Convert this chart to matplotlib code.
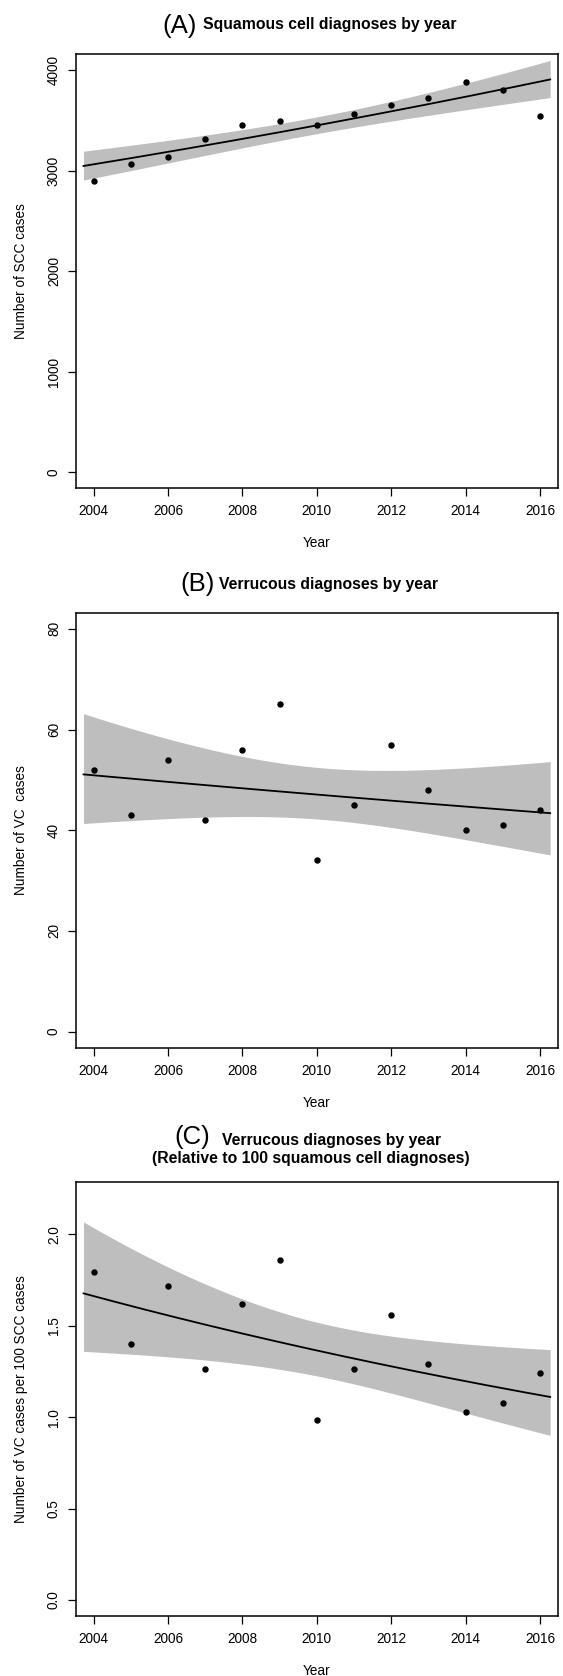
import numpy as np
import matplotlib
matplotlib.use("Agg")
import matplotlib.pyplot as plt

plt.rcParams['font.family'] = ['Liberation Sans', 'DejaVu Sans']

# ---------------- data ----------------
years = np.arange(2004, 2017)
scc_cases = np.array([2901, 3066, 3140, 3318, 3454, 3494, 3454, 3560, 3656, 3719, 3885, 3805, 3547])
vc_cases = np.array([52, 43, 54, 42, 56, 65, 34, 45, 57, 48, 40, 41, 44])
vc_per_100_scc = vc_cases / scc_cases * 100.0

x_ticks = [2004, 2006, 2008, 2010, 2012, 2014, 2016]
a_yticks = [0, 1000, 2000, 3000, 4000]
b_yticks = [0, 20, 40, 60, 80]
c_yticks = [0.0, 0.5, 1.0, 1.5, 2.0]
c_yticklabels = ["0.0", "0.5", "1.0", "1.5", "2.0"]

titles = ["Squamous cell diagnoses by year", "Verrucous diagnoses by year", "Verrucous diagnoses by year"]
subtitle_c = "(Relative to 100 squamous cell diagnoses)"
ylabels = ["Number of SCC cases", "Number of VC  cases", "Number of VC cases per 100 SCC cases"]

T_QUANT = 2.200985  # t(0.975, df=11)


def log_linear_band(x, y, xp):
    """OLS of log(y) on x; fitted line and 95% CI back-transformed."""
    ly = np.log(y)
    X = np.column_stack([np.ones_like(x, dtype=float), x])
    beta, *_ = np.linalg.lstsq(X, ly, rcond=None)
    resid = ly - X @ beta
    s2 = np.sum(resid ** 2) / (len(y) - 2)
    cov = s2 * np.linalg.inv(X.T @ X)
    Xp = np.column_stack([np.ones_like(xp), xp])
    eta = Xp @ beta
    se = np.sqrt(np.einsum('ij,jk,ik->i', Xp, cov, Xp))
    return np.exp(eta), np.exp(eta - T_QUANT * se), np.exp(eta + T_QUANT * se)


W, H = 563, 1676
fig = plt.figure(figsize=(W / 100, H / 100), dpi=100)


def rect(left, top, right, bottom):
    return [left / W, 1 - bottom / H, (right - left) / W, (bottom - top) / H]


xc = (years - 2010).astype(float)
pred_years = np.linspace(years.min() - 0.27, years.max() + 0.27, 300)
xp = pred_years - 2010

panels = [
    dict(rect=rect(75.7, 54.0, 558.0, 488.3), y=scc_cases.astype(float),
         ylim=(0, 4000), yticks=a_yticks, ytl=[str(v) for v in a_yticks]),
    dict(rect=rect(75.7, 612.7, 558.0, 1047.7), y=vc_cases.astype(float),
         ylim=(0, 80), yticks=b_yticks, ytl=[str(v) for v in b_yticks]),
    dict(rect=rect(75.7, 1181.7, 558.0, 1616.0), y=vc_per_100_scc,
         ylim=(0, 2.2), yticks=c_yticks, ytl=c_yticklabels),
]

for i, p in enumerate(panels):
    ax = fig.add_axes(p['rect'])
    fit, lo, hi = log_linear_band(xc, p['y'], xp)
    ax.fill_between(pred_years, lo, hi, color='#BEBEBE', lw=0, zorder=1)
    ax.plot(pred_years, fit, color='black', lw=1.3, zorder=2)
    ax.plot(years, p['y'], 'o', color='black', ms=3.6, zorder=3)
    x0, x1 = 2004, 2016
    ext = 0.04 * (x1 - x0)
    ax.set_xlim(x0 - ext, x1 + ext)
    y0, y1 = p['ylim']
    ext = 0.04 * (y1 - y0)
    ax.set_ylim(y0 - ext, y1 + ext)
    ax.set_xticks(x_ticks)
    ax.set_xticklabels([str(v) for v in x_ticks])
    ax.set_yticks(p['yticks'])
    ax.set_yticklabels(p['ytl'], rotation=90, va='center')
    ax.tick_params(direction='out', length=6.1, width=0.9, labelsize=9.8, colors='black')
    ax.tick_params(axis='x', pad=5.5)
    ax.tick_params(axis='y', pad=4.5)
    for s in ax.spines.values():
        s.set_linewidth(1.1)
    axw = 558.0 - 75.7
    axh = 434.3
    ax.text(-54.5 / axw, 0.5, ylabels[i], rotation=90, ha='center', va='center',
            transform=ax.transAxes, fontsize=9.8)
    ax.text(0.5, -55.0 / axh, "Year", ha='center', va='center',
            transform=ax.transAxes, fontsize=9.8)


def ftext(x, y, s, **kw):
    fig.text(x / W, 1 - y / H, s, **kw)


# titles
ftext(197, 33.0, "(A)", ha='right', va='baseline', fontsize=18.5)
ftext(203, 28.5, titles[0], ha='left', va='baseline', fontsize=11.3, fontweight='bold')
ftext(215, 590.5, "(B)", ha='right', va='baseline', fontsize=18.5)
ftext(219, 588.5, titles[1], ha='left', va='baseline', fontsize=11.3, fontweight='bold')
ftext(210, 1144.0, "(C)", ha='right', va='baseline', fontsize=18.5)
ftext(221.7, 1145.0, titles[2], ha='left', va='baseline', fontsize=11.3, fontweight='bold')
ftext(311, 1163.0, subtitle_c, ha='center', va='baseline', fontsize=11.3, fontweight='bold')

fig.savefig("out.png", dpi=100)
